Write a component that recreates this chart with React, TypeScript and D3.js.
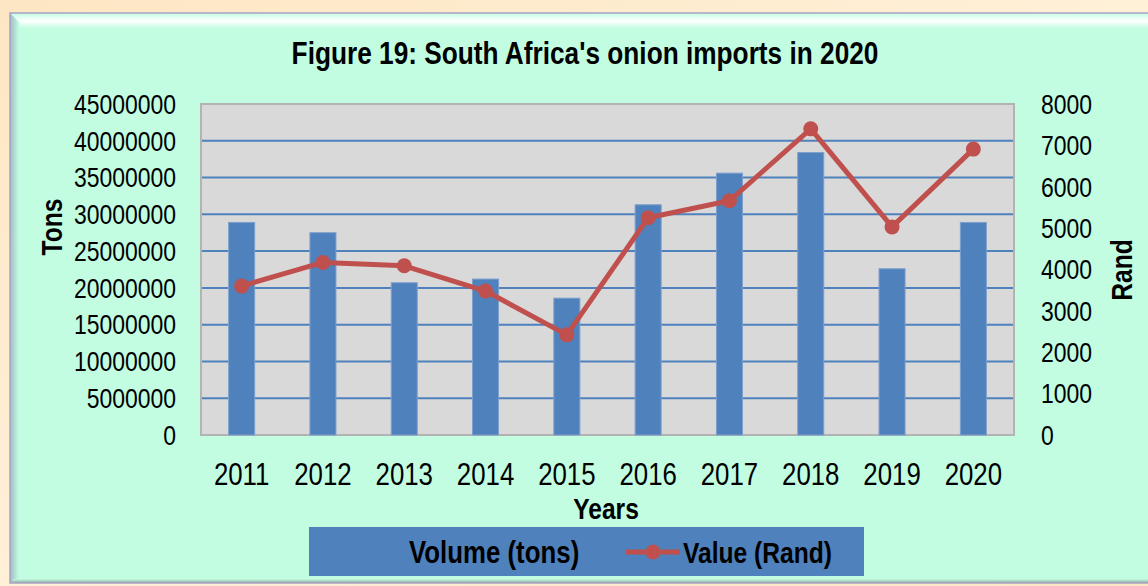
import React from "react";
import * as d3 from "d3";

const years = ["2011", "2012", "2013", "2014", "2015", "2016", "2017", "2018", "2019", "2020"];
const volumeTons = [28900000, 27500000, 20700000, 21200000, 18600000, 31300000, 35600000, 38400000, 22600000, 28900000];
const valueRand = [3600, 4170, 4090, 3480, 2420, 5250, 5660, 7400, 5030, 6910];
const leftTicks = [0, 5000000, 10000000, 15000000, 20000000, 25000000, 30000000, 35000000, 40000000, 45000000];
const rightTicks = [0, 1000, 2000, 3000, 4000, 5000, 6000, 7000, 8000];

const W = 1148;
const H = 586;
const FONT = "'Liberation Sans', Arial, sans-serif";
const NARROW = 0.82;
const BLUE = "#4f81bd";
const RED = "#c0504d";
const MINT = "#c2fde2";

type TProps = {
  x: number;
  y: number;
  size: number;
  bold?: boolean;
  anchor?: "start" | "middle" | "end";
  rotate?: number;
  dy?: string;
  children: React.ReactNode;
};

function T({ x, y, size, bold, anchor = "start", rotate = 0, dy, children }: TProps) {
  return (
    <g transform={`translate(${x},${y}) rotate(${rotate}) scale(${NARROW},1)`}>
      <text
        x={0}
        y={0}
        dy={dy}
        textAnchor={anchor}
        fontFamily={FONT}
        fontWeight={bold ? "bold" : "normal"}
        fontSize={size}
        fill="#000"
      >
        {children}
      </text>
    </g>
  );
}

export default function App() {
  const plot = { l: 201, r: 1014, t: 104, b: 435 };
  const x = d3.scaleBand<string>().domain(years).range([plot.l, plot.r]).paddingInner(0.68).paddingOuter(0.34);
  const yL = d3.scaleLinear().domain([0, 45000000]).range([plot.b, plot.t]);
  const yR = d3.scaleLinear().domain([0, 8000]).range([plot.b, plot.t]);
  const cx = (d: string) => (x(d) as number) + x.bandwidth() / 2;
  const line = d3
    .line<number>()
    .x((_, i) => cx(years[i]))
    .y((v) => yR(v));

  const box = { l: 10, t: 13, r: 1160, b: 583 };
  const bev = 9;

  return (
    <svg width={W} height={H} style={{ position: "absolute", left: 0, top: 0, display: "block" }}>
      <defs>
        <linearGradient id="page" x1="0" y1="0" x2="1" y2="1">
          <stop offset="0" stopColor="#fde6c3" />
          <stop offset="0.5" stopColor="#fff0d8" />
          <stop offset="1" stopColor="#fde6c3" />
        </linearGradient>
        <linearGradient id="topBev" x1="0" y1="0" x2="0" y2="1">
          <stop offset="0" stopColor={MINT} />
          <stop offset="0.55" stopColor="#ffffff" />
          <stop offset="1" stopColor={MINT} />
        </linearGradient>
        <linearGradient id="leftBev" x1="0" y1="0" x2="1" y2="0">
          <stop offset="0" stopColor="#9fbcc4" />
          <stop offset="1" stopColor={MINT} />
        </linearGradient>
        <linearGradient id="botBev" x1="0" y1="0" x2="0" y2="1">
          <stop offset="0" stopColor={MINT} />
          <stop offset="1" stopColor="#8fa9a0" />
        </linearGradient>
      </defs>
      <rect x={0} y={0} width={W} height={H} fill="url(#page)" />
      {/* frame */}
      <rect x={box.l} y={box.t} width={box.r - box.l} height={box.b - box.t} fill={MINT} />
      <polygon
        points={`${box.l},${box.t} ${box.r},${box.t} ${box.r},${box.t + bev + 6} ${box.l + bev},${box.t + bev + 6}`}
        fill="url(#topBev)"
      />
      <polygon
        points={`${box.l},${box.t} ${box.l + bev},${box.t + bev} ${box.l + bev},${box.b - 4} ${box.l},${box.b}`}
        fill="url(#leftBev)"
      />
      <polygon
        points={`${box.l},${box.b} ${box.l + 4},${box.b - 4} ${box.r},${box.b - 4} ${box.r},${box.b}`}
        fill="url(#botBev)"
      />
      <rect x={box.l} y={box.t} width={box.r - box.l} height={box.b - box.t} fill="none" stroke="#a9a2c6" strokeWidth={1.5} />

      {/* title */}
      <T x={585} y={64} size={32} bold anchor="middle">
        Figure 19: South Africa's onion imports in 2020
      </T>

      {/* plot area */}
      <rect x={plot.l} y={plot.t} width={plot.r - plot.l} height={plot.b - plot.t} fill="#d9d9d9" />
      {leftTicks.slice(1, -1).map((t) => (
        <line key={t} x1={plot.l} x2={plot.r} y1={yL(t)} y2={yL(t)} stroke={BLUE} strokeWidth={2} />
      ))}
      <rect x={plot.l} y={plot.t} width={plot.r - plot.l} height={plot.b - plot.t} fill="none" stroke="#b3b3b3" strokeWidth={2} />

      {/* bars */}
      {years.map((yr, i) => (
        <rect
          key={yr}
          x={x(yr)}
          y={yL(volumeTons[i])}
          width={x.bandwidth()}
          height={yL(0) - yL(volumeTons[i])}
          fill={BLUE}
          stroke="#7d9fcd"
          strokeWidth={1}
        />
      ))}

      {/* line */}
      <path d={line(valueRand) || ""} fill="none" stroke={RED} strokeWidth={5} strokeLinejoin="round" />
      {valueRand.map((v, i) => (
        <circle key={i} cx={cx(years[i])} cy={yR(v)} r={7.5} fill={RED} />
      ))}

      {/* left axis */}
      {leftTicks.map((t) => (
        <T key={t} x={176} y={yL(t)} dy="0.35em" size={28} anchor="end">
          {t}
        </T>
      ))}
      {/* right axis */}
      {rightTicks.map((t) => (
        <T key={t} x={1041} y={yR(t)} dy="0.35em" size={28} anchor="start">
          {t}
        </T>
      ))}
      {/* x axis */}
      {years.map((yr) => (
        <T key={yr} x={cx(yr)} y={485} size={31.5} anchor="middle">
          {yr}
        </T>
      ))}

      {/* axis titles */}
      <T x={606} y={519} size={30} bold anchor="middle">
        Years
      </T>
      <T x={62} y={227} size={30} bold anchor="middle" rotate={-90}>
        Tons
      </T>
      <T x={1132} y={270} size={30} bold anchor="middle" rotate={-90}>
        Rand
      </T>

      {/* legend */}
      <rect x={309} y={527} width={555} height={49} fill={BLUE} />
      <rect x={380} y={541} width={22} height={22} fill={BLUE} />
      <T x={409} y={563} size={31.5} bold>
        Volume (tons)
      </T>
      <line x1={626} x2={680} y1={552} y2={552} stroke={RED} strokeWidth={5} />
      <circle cx={653} cy={552} r={7.5} fill={RED} />
      <T x={683} y={563} size={30} bold>
        Value (Rand)
      </T>
    </svg>
  );
}
